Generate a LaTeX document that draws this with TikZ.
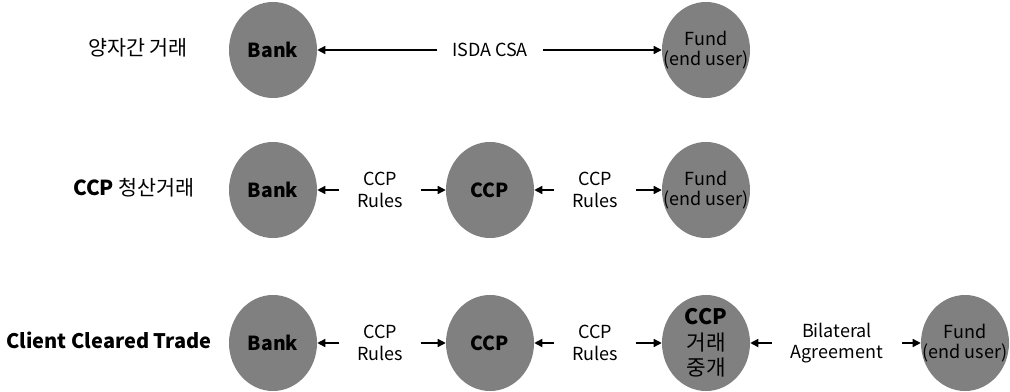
\documentclass[tikz,border=0pt]{standalone}
\usepackage{fontspec}
\setmainfont{Noto Sans CJK KR}
\usetikzlibrary{shapes.geometric,arrows.meta}
\definecolor{partygray}{RGB}{128,128,128}
\tikzset{
	party/.style={ellipse,fill=partygray,minimum width=66pt,minimum height=72pt,inner sep=0pt,font=\bfseries\fontsize{14.5}{16}\selectfont},
	fundtext/.style={align=center,font=\fontsize{13.5}{15}\selectfont,inner sep=0pt},
	rules/.style={align=center,font=\fontsize{13.5}{16}\selectfont,inner xsep=13pt,inner ysep=3pt},
	rowtitle/.style={font=\fontsize{15.5}{18}\selectfont},
	link/.style={-{Triangle[length=6pt,width=6pt]},line width=1pt}
}

\begin{document}
\begin{tikzpicture}[x=0.75pt,y=-0.75pt]
	\useasboundingbox (0,0) rectangle (1010,392);
	% row titles
	\node[rowtitle] (t1) at (138,48) {양자간 거래};
	\node[rowtitle] (t2) at (134,188) {\textbf{CCP} 청산거래};
	\node[rowtitle,font=\bfseries\fontsize{15}{18}\selectfont] (t3) at (109,340) {Client Cleared Trade};
	% bilateral
	\node[party] (bank1) at (273,50) {Bank};
	\node[party,label={[fundtext]center:Fund\\(end user)}] (fund1) at (706,50) {};
	\node[rules,inner xsep=11pt] (isda) at (490,50) {ISDA CSA};
	\draw[link] (isda) -- (bank1);
	\draw[link] (isda) -- (fund1);
	% ccp clearing
	\node[party] (bank2) at (273,190) {Bank};
	\node[party] (ccp2) at (490,190) {CCP};
	\node[party,label={[fundtext]center:Fund\\(end user)}] (fund2) at (706,190) {};
	\node[rules] (rulesa2) at (380,190) {CCP\\Rules};
	\node[rules] (rulesb2) at (595,190) {CCP\\Rules};
	\draw[link] (rulesa2) -- (bank2);
	\draw[link] (rulesa2) -- (ccp2);
	\draw[link] (rulesb2) -- (ccp2);
	\draw[link] (rulesb2) -- (fund2);
	% client cleared
	\node[party] (bank3) at (273,343) {Bank};
	\node[party] (ccp3) at (490,343) {CCP};
	\node[party,label={[fundtext,font=\fontsize{16}{19}\selectfont]center:\textbf{CCP}\\거래\\중개}] (broker3) at (706,343) {};
	\node[party,label={[fundtext]center:Fund\\(end user)}] (fund3) at (965,343) {};
	\node[rules] (rulesa3) at (380,343) {CCP\\Rules};
	\node[rules] (rulesb3) at (595,343) {CCP\\Rules};
	\node[rules,inner xsep=14pt] (bilat3) at (837,343) {Bilateral\\Agreement};
	\draw[link] (rulesa3) -- (bank3);
	\draw[link] (rulesa3) -- (ccp3);
	\draw[link] (rulesb3) -- (ccp3);
	\draw[link] (rulesb3) -- (broker3);
	\draw[link] (bilat3) -- (broker3);
	\draw[link] (bilat3) -- (fund3);
\end{tikzpicture}
\end{document}
